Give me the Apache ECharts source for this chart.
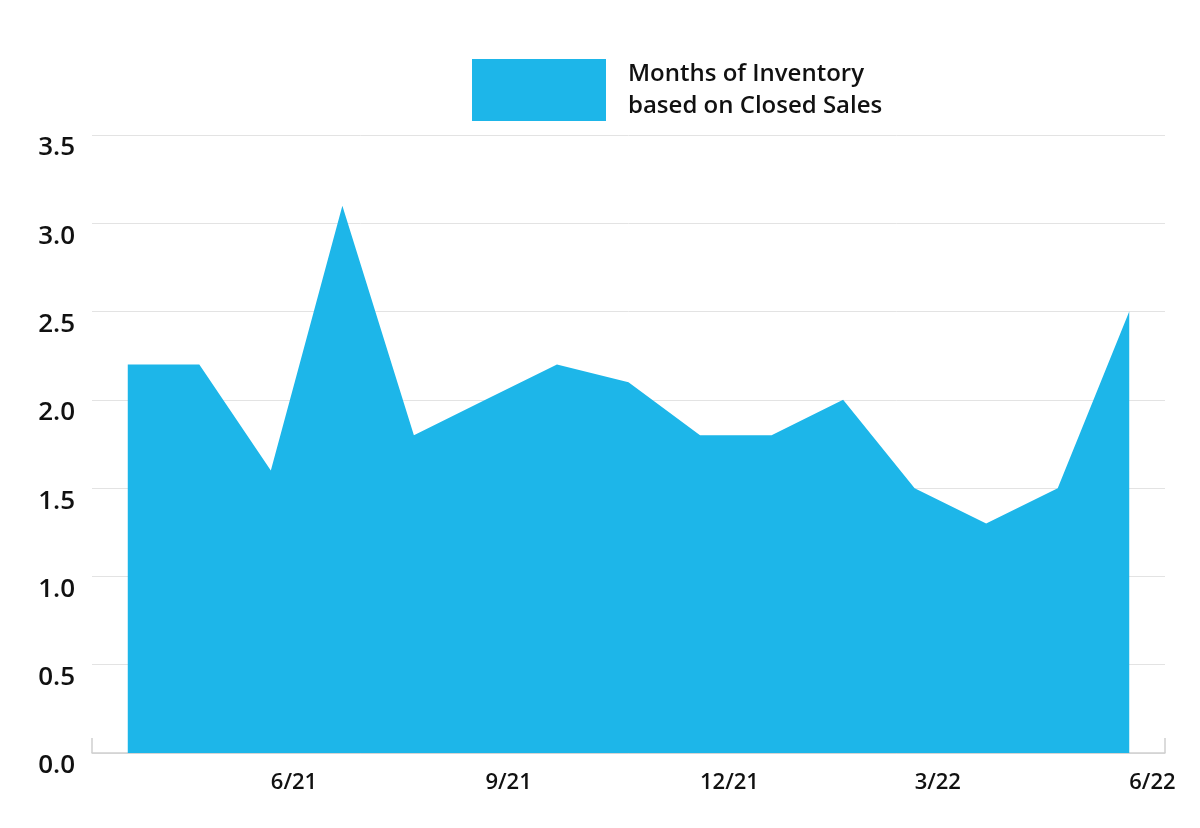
<!DOCTYPE html>
<html>
<head>
<meta charset="utf-8">
<script src="https://cdn.jsdelivr.net/npm/echarts@6/dist/echarts.min.js"></script>
<style>
html,body{margin:0;padding:0;background:#fff;}
#chart{width:1200px;height:828px;}
</style>
</head>
<body>
<div id="chart"></div>
<script>
const months = ['4/21','5/21','6/21','7/21','8/21','9/21','10/21','11/21','12/21','1/22','2/22','3/22','4/22','5/22','6/22'];
const shownLabels = ['6/21','9/21','12/21','3/22','6/22'];
const monthsOfInventory = [2.2, 2.2, 1.6, 3.1, 1.8, 2.0, 2.2, 2.1, 1.8, 1.8, 2.0, 1.5, 1.3, 1.5, 2.5];
const seriesName = 'Months of Inventory\nbased on Closed Sales';

const chart = echarts.init(document.getElementById('chart'));
chart.setOption({
  backgroundColor: '#ffffff',
  animation: false,
  legend: {
    left: 467,
    top: 51,
    itemWidth: 134,
    itemHeight: 62,
    icon: 'rect',
    data: [seriesName],
    textStyle: {
      fontFamily: 'Open Sans',
      fontSize: 24,
      fontWeight: 600,
      color: '#111',
      lineHeight: 32,
      padding: [4, 0, 0, 17]
    }
  },
  grid: { left: 92, right: 35, top: 135, bottom: 75 },
  xAxis: {
    type: 'category',
    data: months,
    boundaryGap: true,
    axisLine: { show: true, lineStyle: { color: '#cfcfcf', width: 1.5 } },
    axisTick: {
      show: true,
      inside: true,
      length: 15,
      interval: function (i) { return i === 0; },
      lineStyle: { color: '#cfcfcf', width: 1.5 }
    },
    axisLabel: {
      interval: function (i, v) { return shownLabels.indexOf(v) >= 0; },
      align: 'left',
      margin: 19,
      fontFamily: 'Open Sans',
      fontSize: 22,
      fontWeight: 600,
      color: '#111'
    },
    splitLine: { show: false }
  },
  yAxis: {
    type: 'value',
    min: 0,
    max: 3.5,
    interval: 0.5,
    axisLine: { show: false },
    axisTick: { show: false },
    axisLabel: {
      formatter: function (v) { return v.toFixed(1); },
      margin: 17,
      verticalAlign: 'top',
      lineHeight: 26,
      fontFamily: 'Open Sans',
      fontSize: 26,
      fontWeight: 600,
      color: '#111'
    },
    splitLine: { show: true, lineStyle: { color: '#e3e3e3', width: 1 } }
  },
  series: [{
    name: seriesName,
    type: 'line',
    data: monthsOfInventory,
    symbol: 'none',
    lineStyle: { width: 0 },
    itemStyle: { color: '#1db6e9' },
    areaStyle: { color: '#1db6e9', opacity: 1 },
    z: 3
  }]
});
</script>
</body>
</html>
